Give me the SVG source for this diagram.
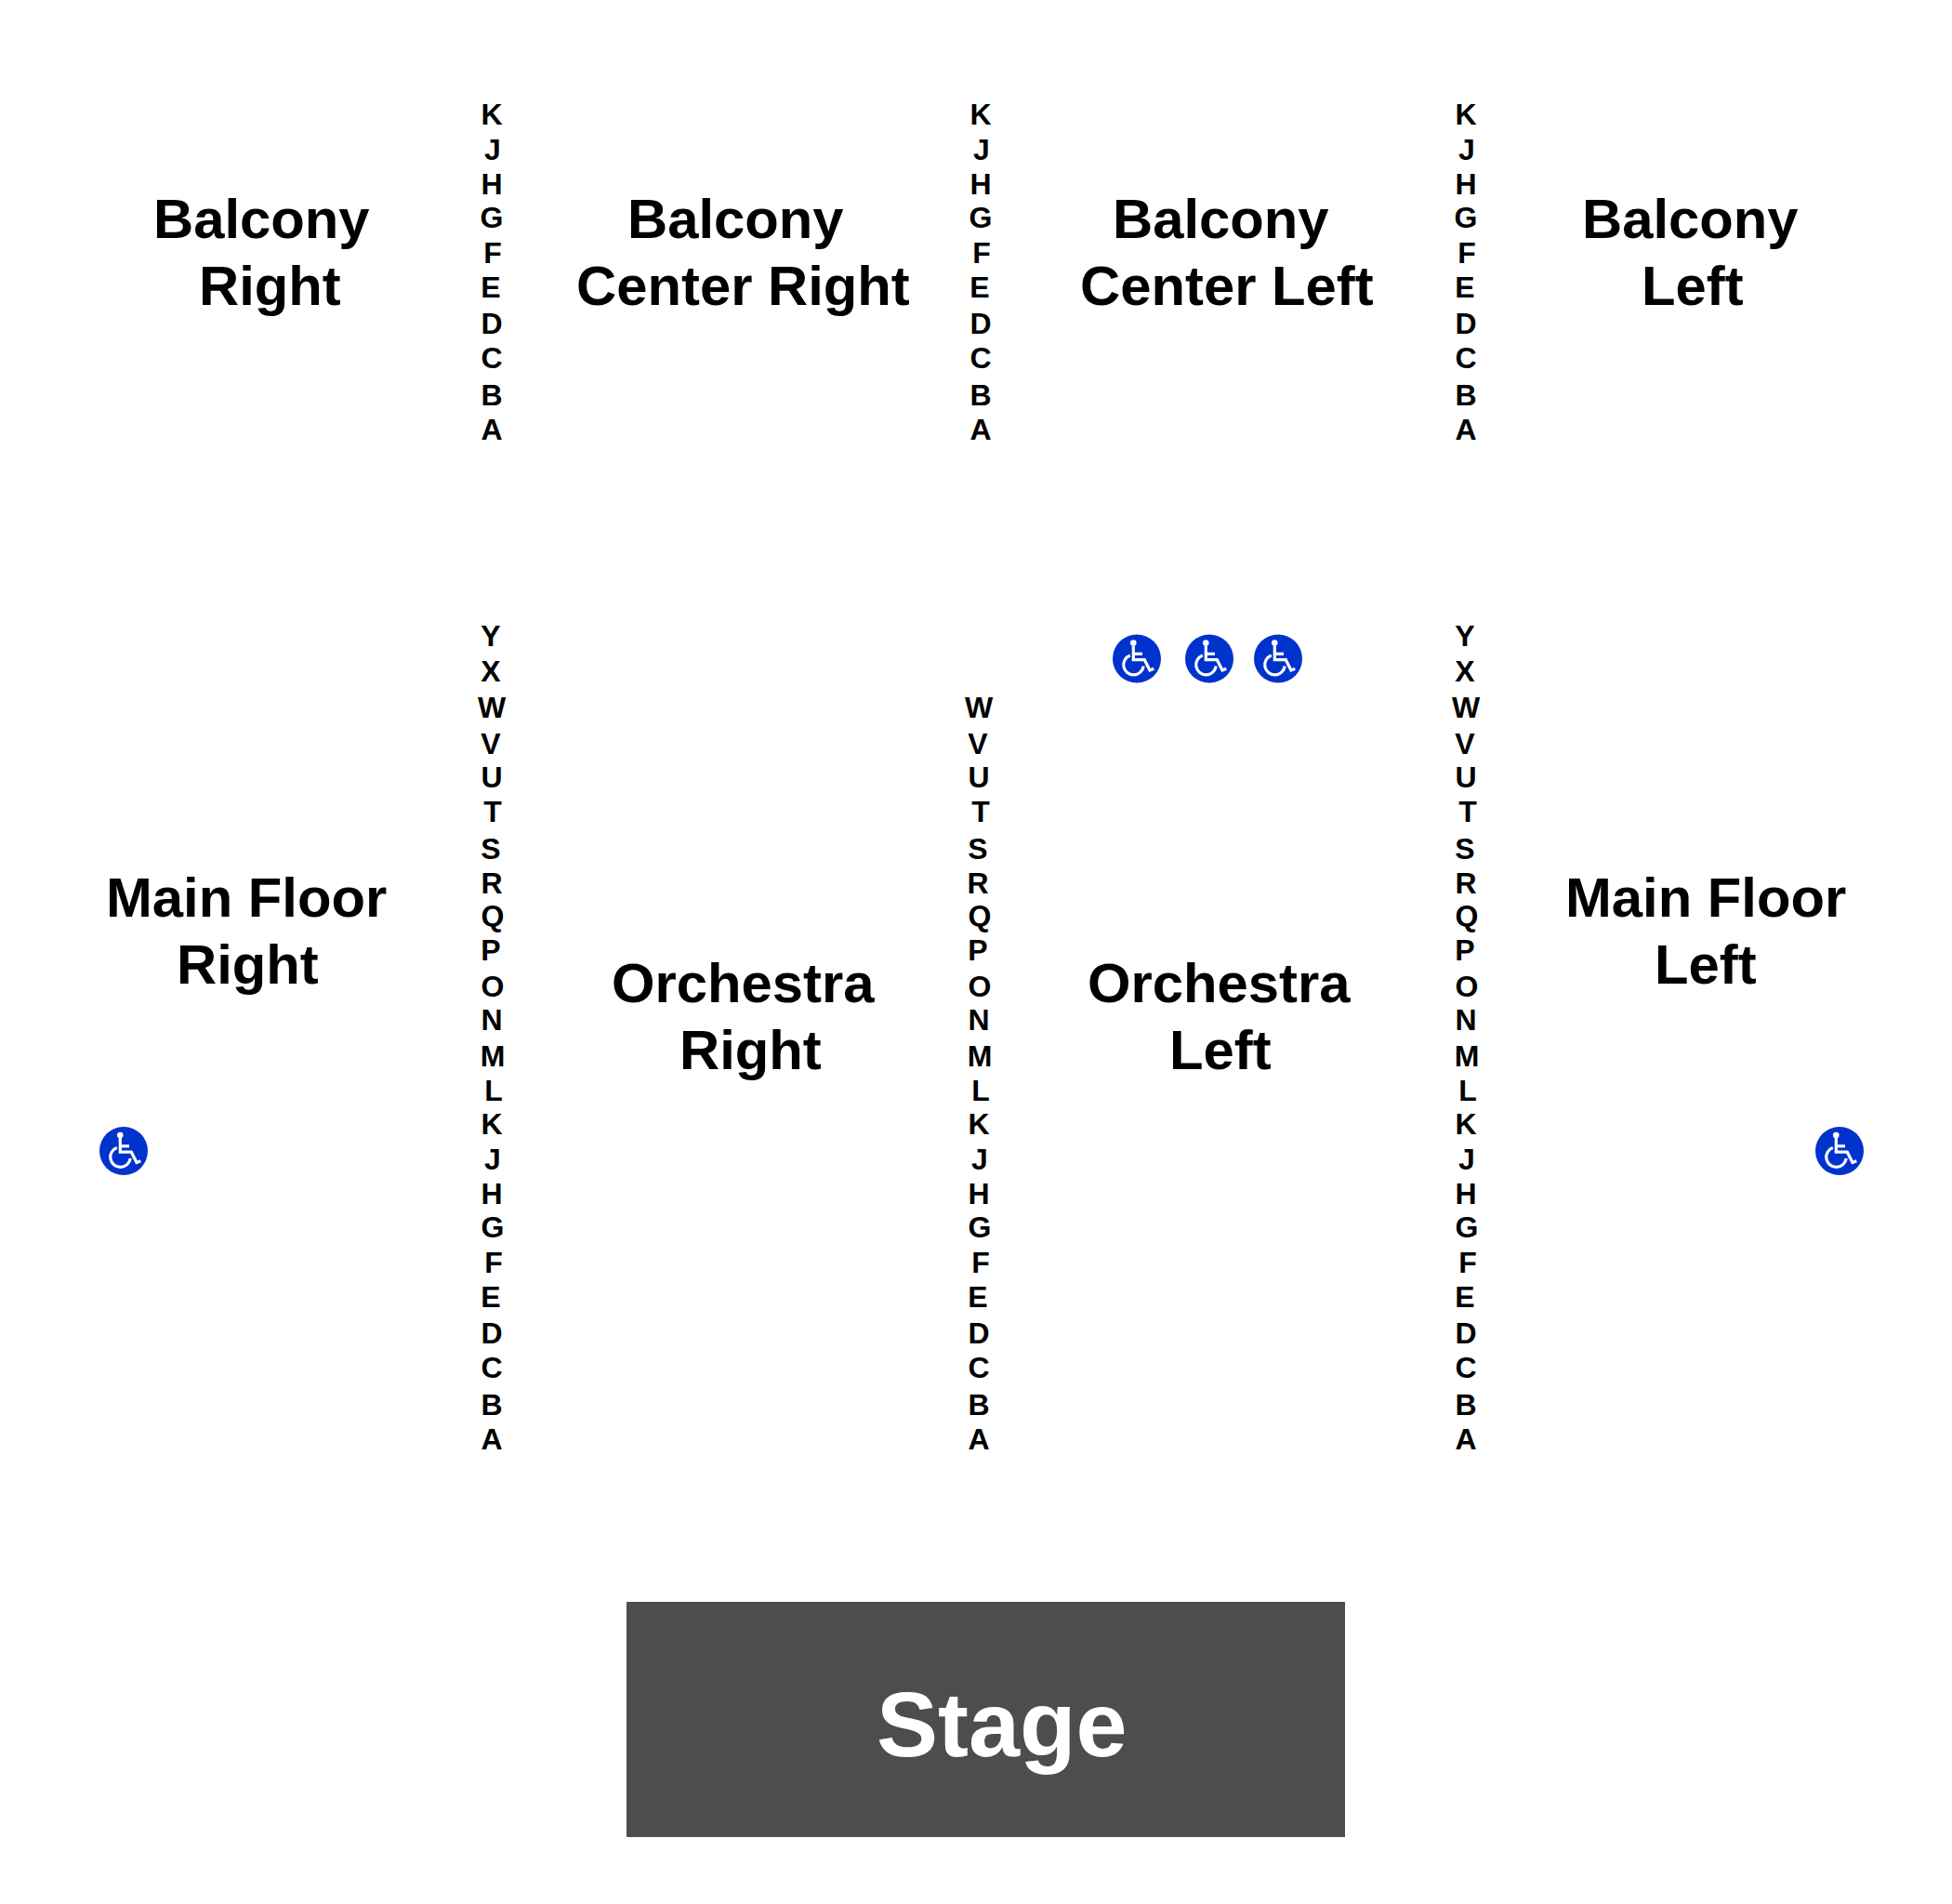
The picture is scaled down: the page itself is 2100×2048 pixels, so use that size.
<svg xmlns="http://www.w3.org/2000/svg" xmlns:xlink="http://www.w3.org/1999/xlink" width="2100" height="2048" viewBox="0 0 2100 2048">
<style>
text{font-family:"Liberation Sans",Arial,sans-serif;font-weight:700;fill:#000}
.r{font-size:32px;text-anchor:middle}
.s{font-size:59.8px}
.st{font-size:99px;fill:#fff}
</style>
<defs>
<g id="wc">
<circle r="26" fill="#0033cc"/>
<g fill="none" stroke="#fff" stroke-width="3.2">
<path d="M-3.7-14V1.2H8.3L14 12.4 18.3 10.7"/>
<path d="M-3.7-5.2H6"/>
<path d="M-7.2-3.6A10.8 10.8 0 1 0 7.2 8"/>
</g>
<circle cx="-3.7" cy="-17" r="3.3" fill="#fff"/>
</g>
</defs>
<rect width="2100" height="2048" fill="#fff"/>
<g id="connectors"/>
<g id="balcony-right"><text class="s" x="165" y="256">Balcony</text><text class="s" x="214" y="328">Right</text></g>
<g id="balcony-center-right"><text class="s" x="675" y="256">Balcony</text><text class="s" x="620" y="328">Center Right</text></g>
<g id="balcony-center-left"><text class="s" x="1197" y="256">Balcony</text><text class="s" x="1162" y="328">Center Left</text></g>
<g id="balcony-left"><text class="s" x="1702" y="256">Balcony</text><text class="s" x="1766" y="328">Left</text></g>
<g id="main-floor-right"><text class="s" x="114" y="986">Main Floor</text><text class="s" x="190" y="1058">Right</text></g>
<g id="orchestra-right"><text class="s" x="658" y="1078">Orchestra</text><text class="s" x="731" y="1150">Right</text></g>
<g id="orchestra-left"><text class="s" x="1170" y="1078">Orchestra</text><text class="s" x="1258" y="1150">Left</text></g>
<g id="main-floor-left"><text class="s" x="1684" y="986">Main Floor</text><text class="s" x="1780" y="1058">Left</text></g>
<g id="rows-balcony-1"><text class="r" x="529" y="134">K</text><text class="r" x="530" y="172">J</text><text class="r" x="529" y="209">H</text><text class="r" x="529" y="245">G</text><text class="r" x="530" y="283">F</text><text class="r" x="528" y="320">E</text><text class="r" x="529" y="359">D</text><text class="r" x="529" y="396">C</text><text class="r" x="529" y="436">B</text><text class="r" x="529" y="473">A</text></g>
<g id="rows-balcony-2"><text class="r" x="1055" y="134">K</text><text class="r" x="1056" y="172">J</text><text class="r" x="1055" y="209">H</text><text class="r" x="1055" y="245">G</text><text class="r" x="1056" y="283">F</text><text class="r" x="1054" y="320">E</text><text class="r" x="1055" y="359">D</text><text class="r" x="1055" y="396">C</text><text class="r" x="1055" y="436">B</text><text class="r" x="1055" y="473">A</text></g>
<g id="rows-balcony-3"><text class="r" x="1577" y="134">K</text><text class="r" x="1578" y="172">J</text><text class="r" x="1577" y="209">H</text><text class="r" x="1577" y="245">G</text><text class="r" x="1578" y="283">F</text><text class="r" x="1576" y="320">E</text><text class="r" x="1577" y="359">D</text><text class="r" x="1577" y="396">C</text><text class="r" x="1577" y="436">B</text><text class="r" x="1577" y="473">A</text></g>
<g id="rows-main-1"><text class="r" x="528" y="695">Y</text><text class="r" x="528" y="733">X</text><text class="r" x="529" y="772">W</text><text class="r" x="528" y="811">V</text><text class="r" x="529" y="847">U</text><text class="r" x="530" y="884">T</text><text class="r" x="528" y="924">S</text><text class="r" x="529" y="961">R</text><text class="r" x="530" y="996">Q</text><text class="r" x="528" y="1033">P</text><text class="r" x="530" y="1072">O</text><text class="r" x="529" y="1108">N</text><text class="r" x="530" y="1147">M</text><text class="r" x="531" y="1184">L</text><text class="r" x="529" y="1220">K</text><text class="r" x="530" y="1258">J</text><text class="r" x="529" y="1295">H</text><text class="r" x="530" y="1331">G</text><text class="r" x="531" y="1369">F</text><text class="r" x="528" y="1406">E</text><text class="r" x="529" y="1445">D</text><text class="r" x="529" y="1482">C</text><text class="r" x="529" y="1522">B</text><text class="r" x="529" y="1559">A</text></g>
<g id="rows-main-2"><text class="r" x="1053" y="772">W</text><text class="r" x="1052" y="811">V</text><text class="r" x="1053" y="847">U</text><text class="r" x="1055" y="884">T</text><text class="r" x="1052" y="924">S</text><text class="r" x="1052" y="961">R</text><text class="r" x="1054" y="996">Q</text><text class="r" x="1052" y="1033">P</text><text class="r" x="1054" y="1072">O</text><text class="r" x="1053" y="1108">N</text><text class="r" x="1054" y="1147">M</text><text class="r" x="1055" y="1184">L</text><text class="r" x="1053" y="1220">K</text><text class="r" x="1054" y="1258">J</text><text class="r" x="1053" y="1295">H</text><text class="r" x="1054" y="1331">G</text><text class="r" x="1055" y="1369">F</text><text class="r" x="1052" y="1406">E</text><text class="r" x="1053" y="1445">D</text><text class="r" x="1053" y="1482">C</text><text class="r" x="1053" y="1522">B</text><text class="r" x="1053" y="1559">A</text></g>
<g id="rows-main-3"><text class="r" x="1576" y="695">Y</text><text class="r" x="1576" y="733">X</text><text class="r" x="1577" y="772">W</text><text class="r" x="1576" y="811">V</text><text class="r" x="1577" y="847">U</text><text class="r" x="1579" y="884">T</text><text class="r" x="1576" y="924">S</text><text class="r" x="1577" y="961">R</text><text class="r" x="1578" y="996">Q</text><text class="r" x="1576" y="1033">P</text><text class="r" x="1578" y="1072">O</text><text class="r" x="1577" y="1108">N</text><text class="r" x="1578" y="1147">M</text><text class="r" x="1579" y="1184">L</text><text class="r" x="1577" y="1220">K</text><text class="r" x="1578" y="1258">J</text><text class="r" x="1577" y="1295">H</text><text class="r" x="1578" y="1331">G</text><text class="r" x="1579" y="1369">F</text><text class="r" x="1576" y="1406">E</text><text class="r" x="1577" y="1445">D</text><text class="r" x="1577" y="1482">C</text><text class="r" x="1577" y="1522">B</text><text class="r" x="1577" y="1559">A</text></g>
<use id="wc-1" href="#wc" x="1223" y="708.5"/>
<use id="wc-2" href="#wc" x="1301" y="708.5"/>
<use id="wc-3" href="#wc" x="1375" y="708.5"/>
<use id="wc-left" href="#wc" x="133" y="1238"/>
<use id="wc-right" href="#wc" x="1979" y="1238"/>
<g id="stage"><rect x="674" y="1723" width="773" height="253" fill="#4d4d4d"/><text class="st" x="943" y="1889">Stage</text></g>
</svg>
